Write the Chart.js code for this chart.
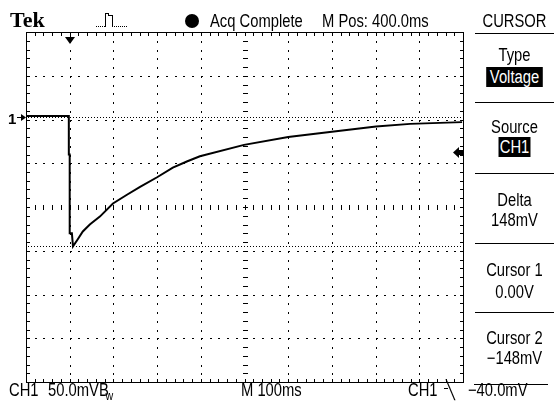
<!DOCTYPE html>
<html>
<head>
<meta charset="utf-8">
<script src="https://cdn.jsdelivr.net/npm/chart.js@4.4.1/dist/chart.umd.min.js"></script>
<style>
  html, body { margin: 0; padding: 0; background: #fff; }
  #wrap { position: relative; width: 554px; height: 401px; overflow: hidden; background: #fff; }
  #c { position: absolute; left: 0; top: 0; }
  .t { position: absolute; font-family: "Liberation Sans", Arial, sans-serif;
       font-size: 18px; line-height: 18px; color: #000; white-space: pre;
       transform: scaleX(0.82); transform-origin: 0 0; }
  .ctr { text-align: center; width: 79px; left: 475px; transform-origin: 50% 0; }
  .inv { background: #000; color: #fff; padding: 0 4px; }
  .sep { position: absolute; height: 1px; background: #000; }
  .tek { position: absolute; font-family: "Liberation Serif", "DejaVu Serif", serif; font-weight: bold; font-size: 22px; line-height: 22px; }
  .gnd { position: absolute; font-family: "Liberation Sans", sans-serif; font-weight: bold; font-size: 15px; line-height: 15px; }
</style>
</head>
<body>
<div id="wrap">
  <canvas id="c" width="554" height="401"></canvas>
  <div class="tek" style="left:10px; top:9px;">Tek</div>
  <div class="t" style="left:210px; top:12px;">Acq Complete</div>
  <div class="t" style="left:322px; top:12px;">M Pos: 400.0ms</div>
  <div class="t ctr" style="top:12px;">CURSOR</div>
  <div class="sep" style="left:475px; width:79px; top:33px;"></div>
  <div class="t ctr" style="top:46px;">Type</div>
  <div class="t ctr" style="top:68px;"><span class="inv">Voltage</span></div>
  <div class="sep" style="left:475px; width:79px; top:102px;"></div>
  <div class="t ctr" style="top:118px;">Source</div>
  <div class="t ctr" style="top:138px;"><span class="inv" style="padding:0 1px;">CH1</span></div>
  <div class="sep" style="left:475px; width:79px; top:173px;"></div>
  <div class="t ctr" style="top:191px;">Delta</div>
  <div class="t ctr" style="top:211px;">148mV</div>
  <div class="sep" style="left:475px; width:79px; top:243px;"></div>
  <div class="t ctr" style="top:261px;">Cursor 1</div>
  <div class="t ctr" style="top:283px;">0.00V</div>
  <div class="sep" style="left:475px; width:79px; top:312px;"></div>
  <div class="t ctr" style="top:329px;">Cursor 2</div>
  <div class="t ctr" style="top:349px;">&minus;148mV</div>
  <div class="sep" style="left:474px; width:74px; top:384px;"></div>
  <div class="t" style="left:9px; top:381px;">CH1</div>
  <div class="t" style="left:48px; top:381px;">50.0mV<span>B</span><span style="font-size:13px; position:relative; top:4px; margin-left:-4px;">w</span></div>
  <div class="t" style="left:241px; top:381px;">M 100ms</div>
  <div class="t" style="left:408px; top:381px;">CH1</div>
  <div class="t" style="left:446px; top:381px;">╲</div>
  <div class="t" style="left:468px; top:381px;">&minus;40.0mV</div>
  <div class="gnd" style="left:8px; top:111px;">1</div>
</div>
<script>
// ---- data (time in ms, voltage in mV) ----
const timeMs  = [-100, -2, -2, 0, 0, 5, 7.5, 17, 30, 46, 69, 99, 131, 161, 200, 236, 268, 298, 399, 500, 600, 701, 779, 898];
const traceMv = [1, 1, -43, -43, -133, -133, -148, -141, -131, -123, -114, -99, -89, -80, -69, -58, -51, -45, -32, -23, -17, -11, -8, -6];
const xRangeMs = [-100, 900];
const yRangeMv = [-303, 97];
const xDivMs = 100;
const yDivMv = 50;
const cursor1Mv = 0;
const cursor2Mv = -148;
const triggerLevelMv = -40;
const triggerTimeMs = 0;
const groundMv = 0;

const points = timeMs.map((t, i) => ({ x: t, y: traceMv[i] }));

const scopePlugin = {
  id: 'scope',
  beforeDatasetsDraw(chart) {
    const ctx = chart.ctx;
    const xs = chart.scales.x, ys = chart.scales.y;
    const { left, right, top, bottom } = chart.chartArea;
    const L = Math.round(left), R = Math.round(right), T = Math.round(top), B = Math.round(bottom);
    ctx.save();
    ctx.fillStyle = '#000';
    // border
    ctx.fillRect(L, T, R - L + 1, 1);
    ctx.fillRect(L, B, R - L + 1, 1);
    ctx.fillRect(L, T, 1, B - T + 1);
    ctx.fillRect(R, T, 1, B - T + 1);
    const xMinor = xDivMs / 5, yMinor = yDivMv / 5;
    const xMinorPx = [], yMinorPx = [];
    for (let t = xRangeMs[0]; t <= xRangeMs[1] + 1e-6; t += xMinor) xMinorPx.push(Math.round(xs.getPixelForValue(t)));
    for (let v = yRangeMv[0]; v <= yRangeMv[1] + 1e-6; v += yMinor) yMinorPx.push(Math.round(ys.getPixelForValue(v)));
    // border ticks
    xMinorPx.forEach(px => { ctx.fillRect(px, T, 1, 4); ctx.fillRect(px, B - 3, 1, 4); });
    yMinorPx.forEach(py => { ctx.fillRect(L, py, 4, 1); ctx.fillRect(R - 3, py, 4, 1); });
    // major lines
    const xMajor = [], yMajor = [];
    for (let t = xRangeMs[0] + xDivMs; t < xRangeMs[1] - 1e-6; t += xDivMs) xMajor.push(t);
    for (let v = yRangeMv[0] + yDivMv; v < yRangeMv[1] - 1e-6; v += yDivMv) yMajor.push(v);
    const xCenter = (xRangeMs[0] + xRangeMs[1]) / 2, yCenter = (yRangeMv[0] + yRangeMv[1]) / 2;
    xMajor.forEach(t => {
      const px = Math.round(xs.getPixelForValue(t));
      const isC = Math.abs(t - xCenter) < 1e-6;
      yMinorPx.forEach(py => {
        if (py <= T + 1 || py >= B - 1) return;
        if (isC) ctx.fillRect(px - 2, py, 5, 1); else ctx.fillRect(px, py, 1, 2);
      });
    });
    yMajor.forEach(v => {
      const py = Math.round(ys.getPixelForValue(v));
      const isC = Math.abs(v - yCenter) < 1e-6;
      xMinorPx.forEach(px => {
        if (px <= L + 1 || px >= R - 1) return;
        if (isC) ctx.fillRect(px, py - 2, 1, 5); else ctx.fillRect(px, py, 2, 1);
      });
    });
    // cursors
    [cursor1Mv, cursor2Mv].forEach(mv => {
      const py = Math.round(ys.getPixelForValue(mv));
      for (let px = L + 2; px < R - 1; px += 3) ctx.fillRect(px, py, 1, 1);
    });
    ctx.restore();
  },
  afterDatasetsDraw(chart) {
    const ctx = chart.ctx;
    const xs = chart.scales.x, ys = chart.scales.y;
    const { left, right, top } = chart.chartArea;
    ctx.save();
    ctx.fillStyle = '#000';
    // trigger position marker
    const tx = Math.round(xs.getPixelForValue(triggerTimeMs));
    ctx.beginPath();
    ctx.moveTo(tx - 5, top + 5); ctx.lineTo(tx + 5, top + 5); ctx.lineTo(tx, top + 12); ctx.closePath(); ctx.fill();
    ctx.fillRect(tx, top, 1, 6);
    // trigger level marker (right)
    const ty = Math.round(ys.getPixelForValue(triggerLevelMv));
    const r = Math.round(right);
    ctx.beginPath();
    ctx.moveTo(r - 10, ty + 0.5); ctx.lineTo(r - 4, ty - 5); ctx.lineTo(r - 4, ty + 6); ctx.closePath(); ctx.fill();
    ctx.fillRect(r - 5, ty - 2, 5, 5);
    // ground marker (left)
    const gy = Math.round(ys.getPixelForValue(groundMv));
    const l = Math.round(left);
    ctx.beginPath();
    ctx.moveTo(l, gy + 0.5); ctx.lineTo(l - 5, gy - 3); ctx.lineTo(l - 5, gy + 4); ctx.closePath(); ctx.fill();
    ctx.fillRect(l - 9, gy, 5, 1);
    // acquisition dot
    ctx.beginPath(); ctx.arc(192, 21, 7, 0, Math.PI * 2); ctx.fill();
    // pulse icon
    ctx.fillRect(105, 13, 1, 14); ctx.fillRect(105, 13, 4, 1); ctx.fillRect(108, 13, 1, 3);
    ctx.fillRect(108, 15, 4, 1); ctx.fillRect(112, 15, 1, 12);
    for (let px = 96; px < 105; px += 2) ctx.fillRect(px, 26, 1, 1);
    for (let px = 114; px < 127; px += 2) ctx.fillRect(px, 26, 1, 1);
    // falling-edge bar of trigger slope icon
    ctx.fillRect(444, 388, 4, 1);
    ctx.restore();
  }
};

new Chart(document.getElementById('c'), {
  type: 'scatter',
  data: {
    datasets: [{
      data: points,
      showLine: true,
      borderColor: '#000',
      backgroundColor: '#000',
      borderWidth: 2,
      pointRadius: 0,
      tension: 0
    }]
  },
  options: {
    responsive: false,
    animation: false,
    devicePixelRatio: 1,
    layout: { padding: { left: 26, top: 32, right: 91, bottom: 19 } },
    plugins: { legend: { display: false }, tooltip: { enabled: false } },
    scales: {
      x: { type: 'linear', min: xRangeMs[0], max: xRangeMs[1], display: false },
      y: { type: 'linear', min: yRangeMv[0], max: yRangeMv[1], display: false }
    }
  },
  plugins: [scopePlugin]
});
</script>
</body>
</html>
